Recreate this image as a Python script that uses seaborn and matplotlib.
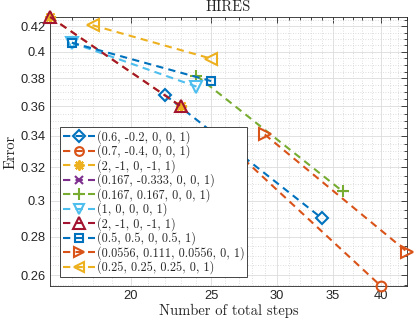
import numpy as np
import pandas as pd
import seaborn as sns
import matplotlib
matplotlib.use("Agg")
import matplotlib.pyplot as plt
from matplotlib.ticker import FixedLocator, FuncFormatter, NullFormatter

# values (number of steps vs error)
labels = [
    "(0.6, -0.2, 0, 0, 1)",
    "(0.7, -0.4, 0, 0, 1)",
    "(2, -1, 0, -1, 1)",
    "(0.167, -0.333, 0, 0, 1)",
    "(0.167, 0.167, 0, 0, 1)",
    "(1, 0, 0, 0, 1)",
    "(2, -1, 0, -1, 1)",
    "(0.5, 0.5, 0, 0.5, 1)",
    "(0.0556, 0.111, 0.0556, 0, 1)",
    "(0.25, 0.25, 0.25, 0, 1)",
]
steps = [
    [22, 34],
    [26, 40],
    [16, 23],
    [19, 22],
    [24, 36],
    [17, 24],
    [16, 23],
    [17, 25],
    [29, 43],
    [18, 25],
]
errors = [
    [0.368, 0.290],
    [0.336, 0.2546],
    [0.4277, 0.360],
    [0.310, 0.285],
    [0.382, 0.3055],
    [0.407, 0.374],
    [0.4277, 0.360],
    [0.407, 0.378],
    [0.341, 0.272],
    [0.421, 0.3947],
]
colors = ["#0072BD", "#D95319", "#EDB120", "#7E2F8E", "#77AC30",
          "#4DBEEE", "#A2142F", "#0072BD", "#D95319", "#EDB120"]
markers = ["D", "o", (8, 2, 0), "x", "+", "v", "^", "s", ">", "<"]
msizes = [6.5, 7, 8, 7, 9, 8.5, 9, 6, 8.5, 8.5]

x_ticks = [20, 25, 30, 35, 40]
y_ticks = [0.26, 0.28, 0.3, 0.32, 0.34, 0.36, 0.38, 0.4, 0.42]

sns.set_theme(style="white")
plt.rcParams["axes.unicode_minus"] = False
serif = ["cmr10", "DejaVu Serif"]

fig = plt.figure(figsize=(4.15, 3.25), dpi=100)
ax = fig.add_axes([0.1205, 0.12, 0.8602, 0.8277])

for i, lab in enumerate(labels):
    d = pd.DataFrame({"steps": steps[i], "err": errors[i]})
    sns.lineplot(data=d, x="steps", y="err", ax=ax, sort=False, estimator=None,
                 color=colors[i], lw=1.5, linestyle=(0, (3.5, 2.5)),
                 marker=markers[i], markersize=msizes[i], mfc="none",
                 mec=colors[i], mew=1.5, label=lab, clip_on=False, zorder=3)

ax.set_xscale("log")
ax.set_yscale("log")
all_x = [v for s in steps for v in s]
all_y = [v for s in errors for v in s]
ax.set_xlim(min(all_x), max(all_x))
ax.set_ylim(min(all_y), max(all_y))

ax.xaxis.set_major_locator(FixedLocator(x_ticks))
ax.xaxis.set_minor_locator(FixedLocator(list(range(16, 44))))
ax.yaxis.set_major_locator(FixedLocator(y_ticks))
ax.yaxis.set_minor_locator(FixedLocator(list(np.arange(0.255, 0.4281, 0.005))))
fmt = FuncFormatter(lambda v, p: "%g" % v)
ax.xaxis.set_major_formatter(fmt)
ax.yaxis.set_major_formatter(fmt)
ax.xaxis.set_minor_formatter(NullFormatter())
ax.yaxis.set_minor_formatter(NullFormatter())

ax.grid(True, which="major", color="#dcdcdc", lw=0.6, ls="-")
ax.grid(True, which="minor", color="#d4d4d4", lw=0.6, ls=(0, (1, 2)))
ax.set_axisbelow(True)

for sp in ax.spines.values():
    sp.set_color("#262626")
    sp.set_linewidth(0.6)
ax.tick_params(which="both", direction="in", top=True, right=True,
               color="#262626", width=0.6)
ax.tick_params(which="major", length=4, labelsize=9.3, pad=3, labelcolor="#262626")
ax.tick_params(which="minor", length=2)
for t in ax.get_xticklabels() + ax.get_yticklabels():
    t.set_family("Liberation Sans")

ax.set_title("HIRES", family=serif, fontsize=10.5, pad=4)
ax.set_xlabel("Number of total steps", family=serif, fontsize=10.5, labelpad=1)
ax.set_ylabel("Error", family=serif, fontsize=10.5, labelpad=2)

leg = ax.legend(loc="upper left", bbox_to_anchor=(0.028, 0.591), borderaxespad=0,
                prop={"family": serif, "size": 8.8}, handlelength=2.6,
                handletextpad=0.15, labelspacing=0.06, borderpad=0.25,
                fancybox=False, framealpha=1, edgecolor="#262626",
                markerscale=0.9)
leg.get_frame().set_linewidth(0.6)
leg.set_zorder(5)

fig.savefig("out.png", dpi=100)
